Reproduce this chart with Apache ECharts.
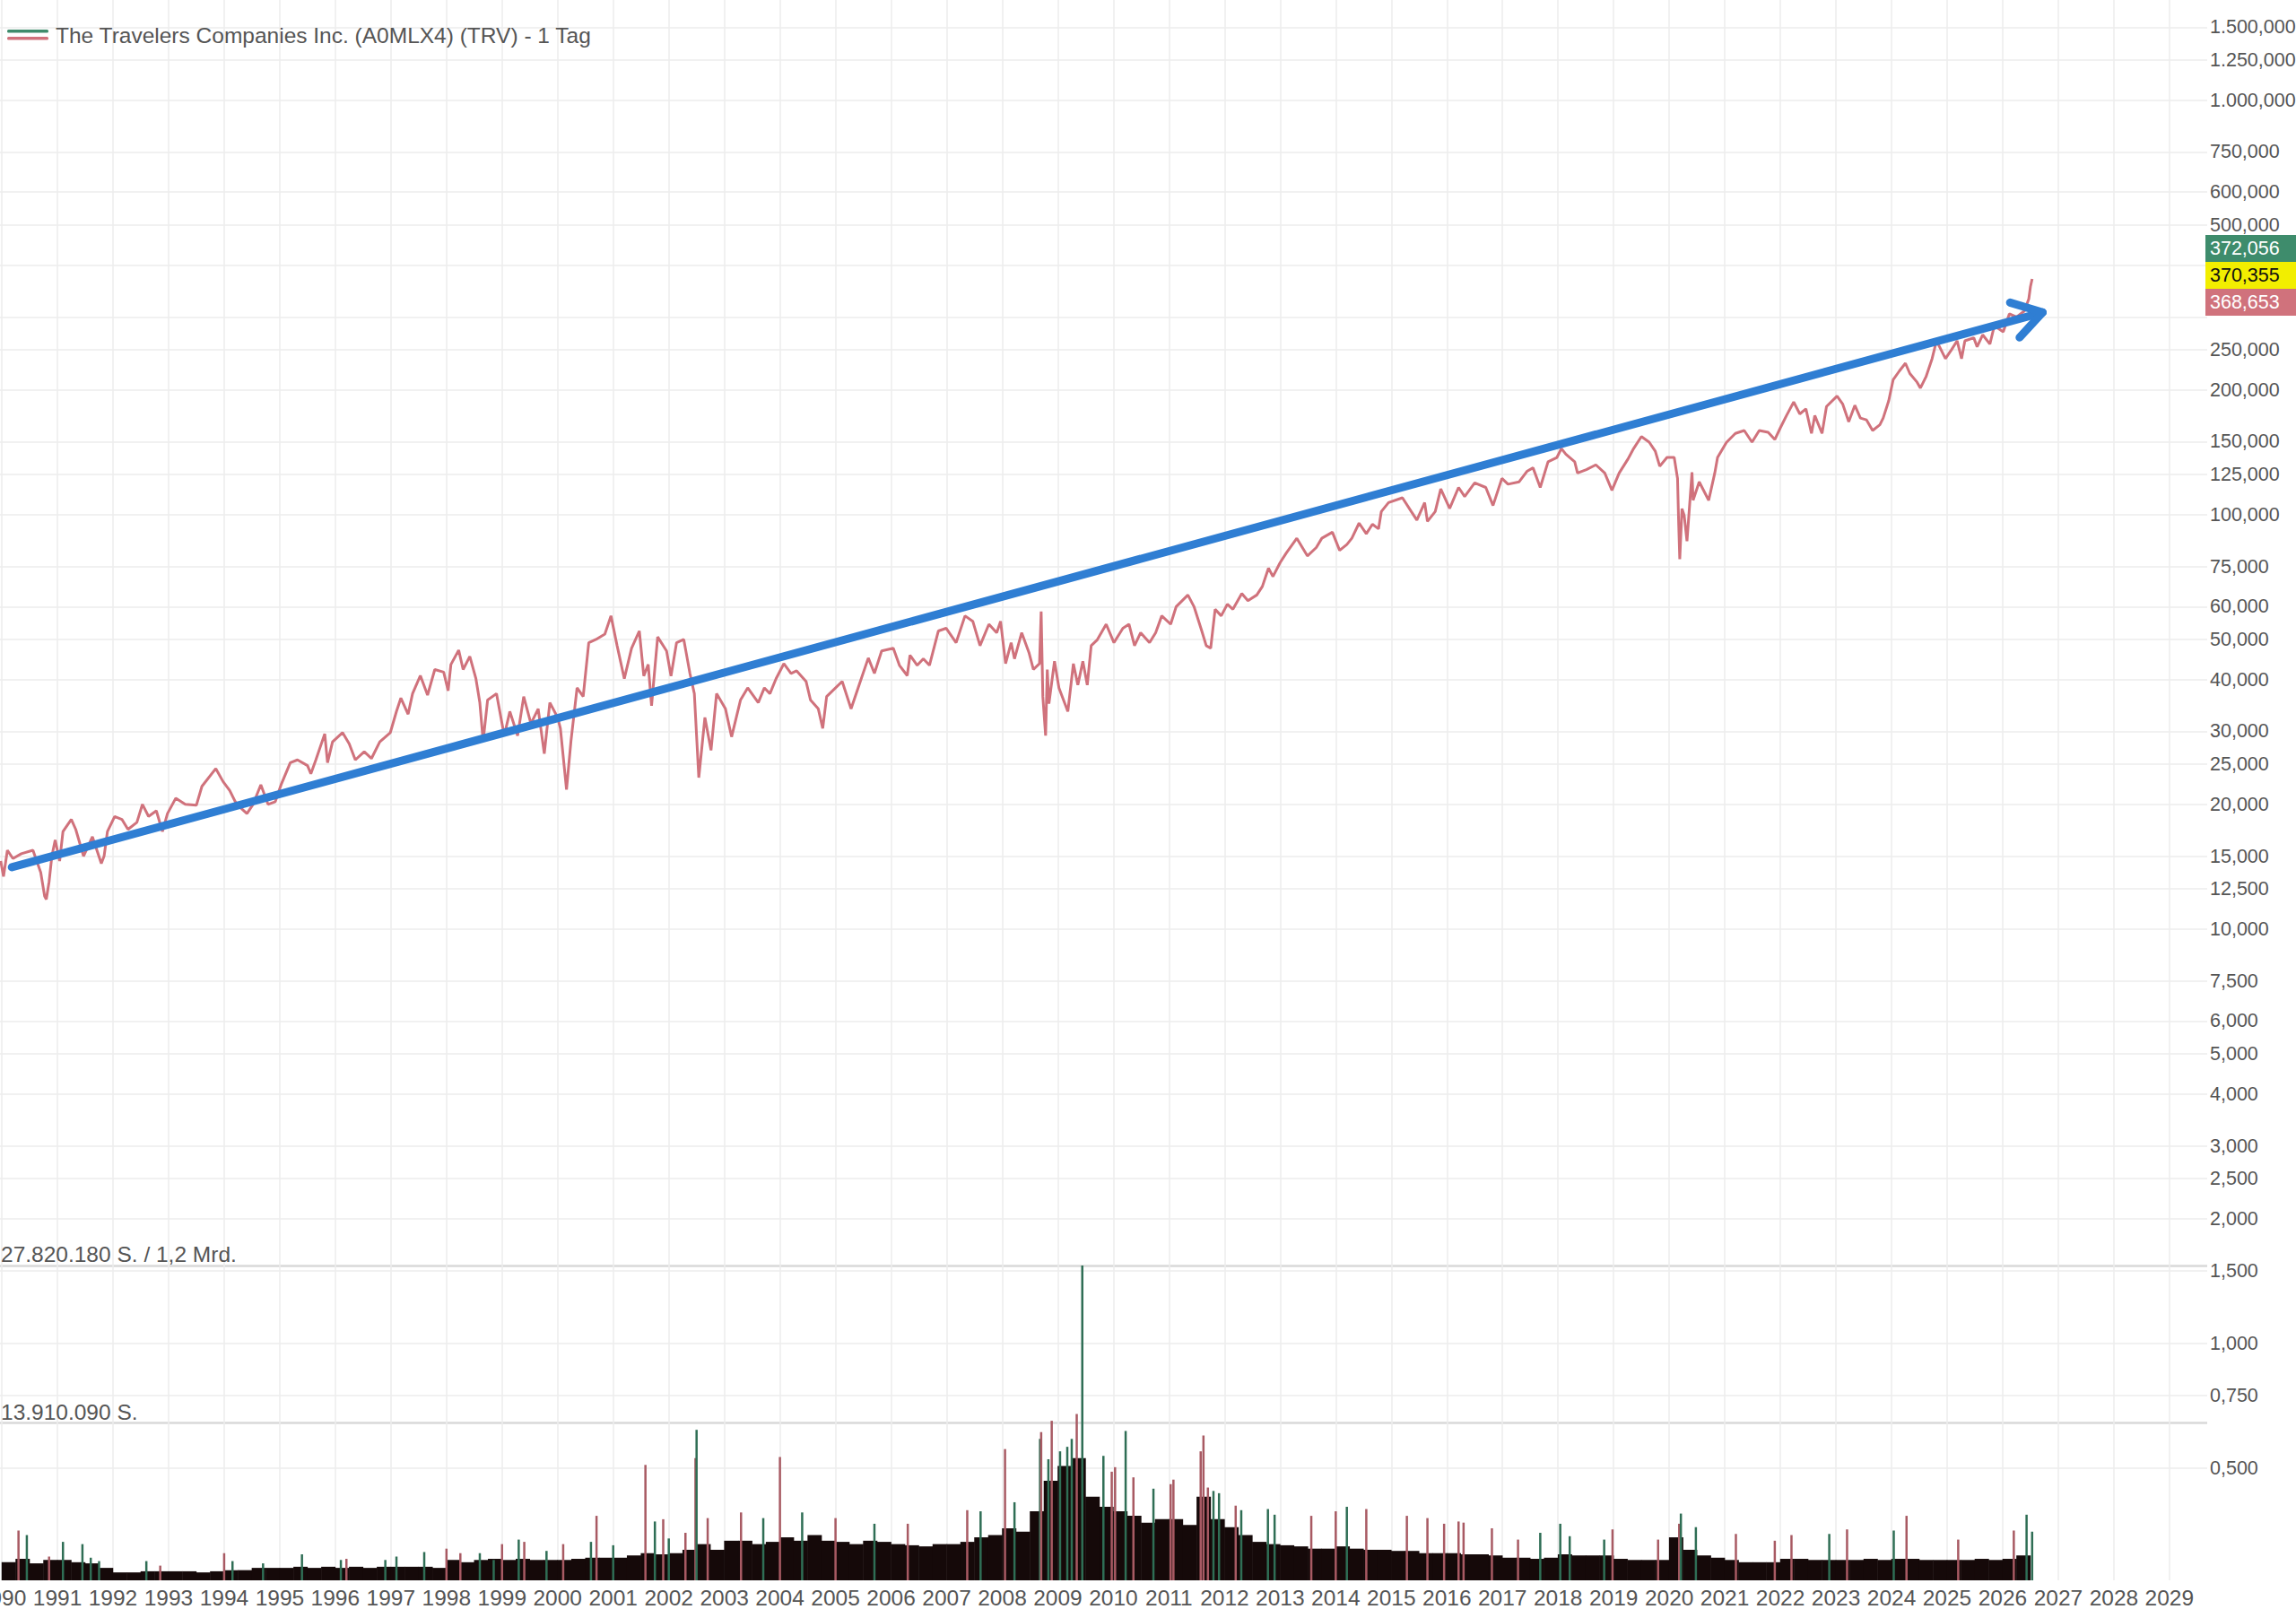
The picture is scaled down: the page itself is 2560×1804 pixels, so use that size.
<!DOCTYPE html>
<html><head><meta charset="utf-8">
<script src="https://cdn.jsdelivr.net/npm/echarts@6/dist/echarts.min.js"></script>
<style>html,body{margin:0;padding:0;background:#fff}#c{width:2560px;height:1804px}</style>
</head><body><div id="c"></div>
<script>
const FONT = '"Liberation Sans", Arial, sans-serif';
const FS = 24.5;      // general text size
const FSY = 21.5;     // right price axis text size (fits the canvas edge)
const title = 'The Travelers Companies Inc. (A0MLX4) (TRV) - 1 Tag';

// price trace (decimal years) and close values (USD)
const priceYears = [].concat(
 [1989.98,1990.03,1990.10,1990.20,1990.35,1990.56,1990.70,1990.77,1990.80,1990.85,1990.90,1990.96],
 [1991.04,1991.10,1991.25,1991.33,1991.47,1991.63,1991.79,1991.84,1991.90],
 [1992.03,1992.16,1992.27,1992.43,1992.53,1992.64,1992.78,1992.89,1992.98],
 [1993.13,1993.30,1993.50,1993.60,1993.85,1993.98],
 [1994.10,1994.20,1994.30,1994.41,1994.52,1994.66,1994.79,1994.92],
 [1995.03,1995.19,1995.32,1995.50,1995.56,1995.65,1995.81,1995.86,1995.95],
 [1996.13,1996.25,1996.36,1996.52,1996.65,1996.80,1996.99],
 [1997.10,1997.18,1997.31,1997.39,1997.53,1997.66,1997.79,1997.95],
 [1998.03,1998.08,1998.22,1998.30,1998.42,1998.53,1998.60,1998.66,1998.74,1998.90],
 [1999.04,1999.14,1999.28,1999.39,1999.52,1999.65,1999.76,1999.86],
 [2000.00,2000.05,2000.16,2000.24,2000.35,2000.46,2000.56,2000.69,2000.85,2000.96],
 [2001.07,2001.20,2001.33,2001.47,2001.55,2001.63,2001.69,2001.80,2001.96],
 [2002.04,2002.14,2002.27,2002.38,2002.46,2002.54,2002.65,2002.76,2002.86],
 [2003.02,2003.13,2003.29,2003.42,2003.61,2003.72,2003.82,2003.93],
 [2004.07,2004.20,2004.30,2004.47,2004.55,2004.69,2004.77,2004.84],
 [2005.12,2005.28,2005.43,2005.59,2005.70,2005.83],
 [2006.04,2006.15,2006.29,2006.34,2006.47,2006.58,2006.69,2006.85,2006.99],
 [2007.17,2007.33,2007.47,2007.60,2007.76,2007.90,2007.97],
 [2008.06,2008.16,2008.22,2008.35,2008.48,2008.56,2008.67,2008.70,2008.73,2008.78,2008.81,2008.84,2008.94],
 [2009.02,2009.18,2009.28,2009.36,2009.45,2009.53,2009.60,2009.71,2009.87],
 [2010.01,2010.17,2010.28,2010.38,2010.49,2010.65,2010.76,2010.87],
 [2011.03,2011.13,2011.34,2011.45,2011.59,2011.67,2011.75,2011.83,2011.94],
 [2012.05,2012.15,2012.31,2012.42,2012.58,2012.68,2012.79,2012.87],
 [2013.00,2013.11,2013.30,2013.49,2013.65,2013.75,2013.94],
 [2014.07,2014.20,2014.29,2014.42,2014.55,2014.66,2014.77,2014.82,2014.95],
 [2015.20,2015.36,2015.46,2015.60,2015.65,2015.79,2015.89],
 [2016.05,2016.21,2016.32,2016.50,2016.70,2016.83,2016.99],
 [2017.10,2017.30,2017.44,2017.55,2017.68,2017.82,2017.98],
 [2018.06,2018.14,2018.30,2018.35,2018.51,2018.68,2018.84,2018.97],
 [2019.10,2019.26,2019.36,2019.50,2019.64,2019.75,2019.83,2019.96],
 [2020.09,2020.15,2020.17,2020.19,2020.23,2020.27,2020.32,2020.41,2020.43,2020.54,2020.71,2020.82,2020.87],
 [2021.03,2021.19,2021.35,2021.49,2021.62,2021.78,2021.90],
 [2022.00,2022.11,2022.24,2022.35,2022.46,2022.56,2022.62,2022.75,2022.83],
 [2023.02,2023.12,2023.23,2023.34,2023.44,2023.55,2023.66,2023.79,2023.85,2023.95],
 [2024.03,2024.14,2024.25,2024.33,2024.46,2024.52,2024.62,2024.73,2024.81,2024.89,2024.97],
 [2025.08,2025.18,2025.26,2025.32,2025.48,2025.54,2025.64,2025.77,2025.85],
 [2026.01,2026.12,2026.25,2026.39,2026.47,2026.50,2026.53]
);
const priceValues = [].concat(
 [14.6,13.4,15.5,14.8,15.2,15.5,13.7,12.0,11.8,13.0,15.0,16.4],
 [14.6,17.2,18.4,17.4,15.0,16.7,14.4,15.0,17.2],
 [18.7,18.4,17.4,18.1,20.0,18.7,19.3,17.2,19.0],
 [20.7,20.0,19.9,22.1,24.4,22.7],
 [21.6,20.3,19.6,19.0,20.0,22.3,20.0,20.3],
 [22.4,25.2,25.6,24.8,23.7,25.6,29.6,25.2,28.3],
 [29.8,28.0,25.6,26.8,25.8,28.3,29.8],
 [33.5,36.1,33.0,37.0,40.9,36.7,42.3,41.7],
 [37.6,43.5,47.1,42.3,45.5,40.2,35.2,28.4,35.7,37.0],
 [29.3,33.5,29.3,36.4,31.3,34.0,26.5,35.2],
 [32.4,30.5,21.7,28.4,38.2,36.4,49.1,50.0,51.5,57.0],
 [48.3,40.2,47.6,52.4,40.8,43.5,34.6,50.7,46.9],
 [40.8,49.1,50.0,41.4,37.0,23.2,32.4,27.0,37.0],
 [34.0,29.1,35.7,38.2,35.2,38.2,37.0,40.2],
 [43.7,41.4,42.0,39.6,35.7,34.0,30.5,36.4],
 [39.6,34.0,39.0,45.1,41.4,46.9],
 [47.6,43.3,40.9,45.8,43.3,44.9,43.3,52.4,53.2],
 [49.1,57.0,55.3,48.3,54.4,51.9,55.3],
 [43.7,49.1,44.9,51.9,46.5,42.3,43.7,58.4,36.4,29.3,42.3,35.0,44.3],
 [38.2,33.5,43.7,38.8,44.3,38.8,48.3,49.9,54.4],
 [49.1,53.2,54.4,48.3,51.9,49.1,51.9,57.0],
 [54.4,60.0,64.0,60.0,52.4,48.3,47.6,59.1,57.0],
 [60.8,59.1,64.5,62.0,64.0,67.1,74.3,70.9],
 [76.6,80.8,87.7,79.5,83.3,87.7,90.7],
 [82.0,84.7,87.7,95.4,89.9,94.8,92.4,101.7,106.9],
 [109.8,101.7,97.0,106.9,96.3,101.7,115.4],
 [103.5,116.3,110.6,119.3,116.3,105.2,122.3],
 [118.4,120.0,127.2,129.7,116.3,134.1,137.4],
 [144.4,139.9,134.1,126.0,128.4,131.9,126.0,114.5],
 [126.0,136.3,144.4,154.3,149.6,142.2,130.8,137.4],
 [137.4,122.3,95.4,78.1,103.4,99.5,86.3,126.5,108.3,120.0,108.3,126.0,137.4],
 [149.4,157.0,159.6,149.6,159.6,158.0,151.8],
 [162.0,173.4,186.9,175.0,180.0,157.0,173.4,157.0,182.3],
 [193.2,185.0,167.5,183.5,171.0,169.3,159.6,164.7,171.0,188.4],
 [211.7,222.0,231.9,219.0,208.7,202.0,215.0,237.8,262.7,250.0,237.8],
 [250.0,262.7,237.8,262.7,267.1,254.0,271.6,258.0,285.5],
 [276.0,305.0,300.0,310.0,331.5,355.0,370.4]
);

// quarterly volume envelope (million shares), from 1990 Q1
const volStartYear = 1990;
const volumeQuarterly = [
 1.6,1.9,1.5,1.8, 1.8,1.6,1.5,1.1, 0.7,0.7,0.8,0.8, 0.8,0.8,0.7,0.8, 0.9,0.9,1.1,1.1,
 1.1,1.2,1.1,1.2, 1.1,1.2,1.1,1.2, 1.2,1.2,1.2,1.1, 1.8,1.6,1.8,1.9, 1.8,1.9,1.8,1.8,
 1.8,1.9,2.0,2.0, 2.0,2.2,2.4,2.3, 2.4,2.7,3.2,2.7, 3.5,3.5,3.2,3.4, 3.8,3.5,4.0,3.5,
 3.4,3.2,3.5,3.4, 3.2,3.1,3.0,3.2, 3.2,3.4,3.8,4.0, 4.6,4.3,6.1,8.8, 10.1,10.8,7.4,6.5,
 6.1,5.7,5.1,5.4, 5.4,4.9,7.4,5.4, 4.7,4.0,3.4,3.2, 3.1,3.0,2.8,2.8, 3.0,2.8,2.7,2.7,
 2.6,2.6,2.4,2.4, 2.4,2.3,2.3,2.2, 2.0,2.0,1.9,2.0, 2.3,2.2,2.2,2.2, 1.9,1.8,1.8,1.8,
 3.8,2.7,2.2,2.0, 1.8,1.6,1.6,1.6, 1.9,1.9,1.8,1.8, 1.8,1.8,1.9,1.8, 1.9,1.9,1.8,1.8,
 1.8,1.8,1.9,1.8, 1.9,2.2
];
// individual volume spikes (million shares)
const spikeYears = [
 1990.30,1990.45,1990.85,1991.10,1991.45,1991.60,1991.75,1992.60,1992.85,1994.00,
 1994.15,1994.70,1995.40,1996.10,1996.20,1996.90,1997.10,1997.60,1998.00,1998.25,
 1998.60,1998.85,1999.00,1999.30,1999.40,1999.80,2000.10,2000.60,2000.70,2001.00,
 2001.58,2001.75,2001.90,2002.00,2002.30,2002.48,2002.50,2002.70,2003.30,2003.70,
 2004.00,2004.40,2005.00,2005.70,2006.30,2007.37,2007.61,2008.05,2008.22,2008.68,
 2008.70,2008.83,2008.89,2009.04,2009.17,2009.25,2009.34,2009.44,2009.82,2009.97,
 2010.03,2010.22,2010.36,2010.72,2011.03,2011.08,2011.57,2011.62,2011.70,2011.80,
 2011.90,2012.20,2012.30,2012.78,2012.90,2013.56,2014.00,2014.20,2014.55,2015.28,
 2015.65,2015.95,2016.21,2016.30,2016.81,2017.28,2017.68,2018.04,2018.21,2018.83,
 2018.98,2019.80,2020.18,2020.21,2020.48,2021.20,2021.90,2022.20,2022.88,2023.20,
 2024.04,2024.27,2025.20,2026.20,2026.43,2026.53];
const spikeValues = [
 4.4,4.0,2.1,3.4,3.2,2.0,1.7,1.7,1.3,2.4,
 1.7,1.5,2.3,1.8,1.9,1.8,2.1,2.5,2.8,2.4,
 2.4,1.8,3.2,3.6,3.4,2.6,3.2,3.4,5.7,3.1,
 10.2,5.2,5.4,3.7,4.2,10.8,13.3,5.5,6.0,5.5,
 10.9,6.0,5.5,5.0,5.0,6.2,6.1,11.6,6.9,12.5,
 13.1,10.7,14.1,11.4,11.8,12.5,14.7,27.82,11.0,9.6,
 10.0,13.2,9.1,8.1,8.5,8.9,11.4,12.8,8.2,7.9,
 7.7,6.6,6.2,6.3,5.8,5.7,6.1,6.5,6.3,5.7,
 5.5,5.0,5.2,5.1,4.6,3.6,4.2,5.0,3.9,3.6,
 4.5,3.6,5.0,5.9,4.7,4.1,3.5,4.0,4.1,4.5,
 4.4,5.7,3.6,4.4,5.8,4.3];
const spikeDir = ('rgrgggggrr'+'ggggrgggrr'+'ggrgrgrgrg'+'rgrgrrgrrg'+'rgrgrrgrgg'+
 'rgrgggrggr'+'rgrgrrrrrg'+'grgggrrgrr'+'rrrrrrgggg'+'rrrggrrrgr'+'grrrgg').split('');

const volMax = 27.82018;                 // million shares
const volTicks = [13.91009, 27.82018];
const volTickLabels = ['13.910.090 S.', '27.820.180 S. / 1,2 Mrd.'];
const priceGridTicks = [0.5,0.75,1,1.5,2,2.5,3,4,5,6,7.5,10,12.5,15,20,25,30,40,50,60,75,100,125,150,200,250,300,400,500,600,750,1000,1250,1500];
const priceLabelTicks = [0.5,0.75,1,1.5,2,2.5,3,4,5,6,7.5,10,12.5,15,20,25,30,40,50,60,75,100,125,150,200,250,500,600,750,1000,1250,1500];
const yearTicks = []; for (let y = 1990; y <= 2029; y++) yearTicks.push(y);
const tagValues = [372.056, 370.355, 368.653];
const arrowFrom = [1990.18, 14.1];
const arrowTo = [2026.72, 307.6];

const RED = '#d0727c', GREEN = '#3e8c6c';
function fmtDE(v){ const s = Number(v).toFixed(3); let [i,d] = s.split('.'); i = i.replace(/\B(?=(\d{3})+(?!\d))/g,'.'); return i + ',' + d; }

const xMin = 1989.967, xMax = 2029.68;
const yMin = 0.2684, yMax = 1744.6;

const chart = echarts.init(document.getElementById('c'), null, {renderer:'svg', width:2560, height:1804});
const option = {
  animation: false,
  backgroundColor: '#ffffff',
  textStyle: {fontFamily: FONT, fontSize: FS, color: '#555'},
  graphic: [
    {type:'rect', x:8, y:33, shape:{width:46, height:3.5, r:1.5}, style:{fill:GREEN}, z:50},
    {type:'rect', x:8, y:41, shape:{width:46, height:3.5, r:1.5}, style:{fill:RED}, z:50},
    {type:'text', x:62, y:39, z:50, style:{text:title, fontFamily:FONT, fontSize:FS, fill:'#555', verticalAlign:'middle', align:'left'}}
  ],
  grid: [
    {left:0, right:99, top:0, bottom:42, outerBoundsMode:'none', containLabel:false},
    {left:0, right:99, top:1411, bottom:42, outerBoundsMode:'none', containLabel:false}
  ],
  xAxis: [
    {type:'value', gridIndex:0, min:xMin, max:xMax,
     axisLine:{show:false}, axisTick:{show:false, customValues:yearTicks},
     axisLabel:{show:false, customValues:yearTicks},
     splitLine:{show:true, lineStyle:{color:'#ececec', width:1.5}}},
    {type:'value', gridIndex:1, min:xMin, max:xMax,
     axisLine:{show:false}, axisTick:{show:false, customValues:yearTicks},
     axisLabel:{show:true, customValues:yearTicks, margin:7, fontSize:FS, color:'#555', fontFamily:FONT, hideOverlap:false,
       formatter: v => String(Math.round(v))},
     splitLine:{show:false}},
    {type:'value', gridIndex:1, min:xMin, max:xMax, show:false, splitLine:{show:false}}
  ],
  yAxis: [
    {type:'log', gridIndex:0, position:'right', min:yMin, max:yMax,
     axisLine:{show:false}, axisTick:{show:false, customValues:priceGridTicks},
     axisLabel:{customValues:priceLabelTicks, formatter: v => fmtDE(v), margin:3, fontSize:FSY, color:'#555', fontFamily:FONT},
     splitLine:{show:true, lineStyle:{color:'#ececec', width:1.5}}},
    {type:'value', gridIndex:1, position:'left', min:0, max:volMax,
     axisLine:{show:false}, axisTick:{show:false, customValues:volTicks},
     axisLabel:{inside:true, customValues:volTicks, margin:1, verticalAlign:'bottom', fontSize:FS, color:'#555', fontFamily:FONT,
       formatter: v => { const i = volTicks.findIndex(t => Math.abs(t - v) < 1e-6); return i >= 0 ? volTickLabels[i] : ''; }},
     splitLine:{show:true, lineStyle:{color:'#d9d9d9', width:2.5}}}
  ],
  series: [
    {type:'bar', name:'Volumen', xAxisIndex:1, yAxisIndex:1, barWidth:16, z:2,
     itemStyle:{color:'#150909'},
     data: volumeQuarterly.map((v,i) => [volStartYear + i*0.25 + 0.125, v])},
    {type:'bar', name:'Volumen Spitzen', xAxisIndex:2, yAxisIndex:1, barWidth:2.5, z:3,
     data: spikeYears.map((y,i) => ({value:[y, spikeValues[i]], itemStyle:{color: spikeDir[i]==='g' ? '#2f6e55' : '#a85a63'}}))},
    {type:'line', name:title, xAxisIndex:0, yAxisIndex:0, showSymbol:false, symbol:'none', z:4,
     lineStyle:{color:RED, width:3}, itemStyle:{color:RED},
     data: priceYears.map((y,i) => [y, priceValues[i]])},
    {type:'custom', name:'Trend', xAxisIndex:0, yAxisIndex:0, z:6,
     dimensions:['x0','y0','x1','y1'], encode:{x:[0,2], y:[1,3]},
     data:[[arrowFrom[0], arrowFrom[1], arrowTo[0], arrowTo[1]]],
     renderItem: (params, api) => {
       const p0 = api.coord([api.value(0), api.value(1)]);
       const p1 = api.coord([api.value(2), api.value(3)]);
       const dx = p1[0]-p0[0], dy = p1[1]-p0[1], L = Math.hypot(dx,dy);
       const bx = -dx/L, by = -dy/L, len = 38, ang = 32*Math.PI/180;
       const rot = a => [p1[0] + len*(bx*Math.cos(a) - by*Math.sin(a)), p1[1] + len*(bx*Math.sin(a) + by*Math.cos(a))];
       const st = {stroke:'#2f7ed3', lineWidth:9, lineCap:'round', lineJoin:'round', fill:null};
       return {type:'group', children:[
         {type:'line', shape:{x1:p0[0], y1:p0[1], x2:p1[0], y2:p1[1]}, style:st},
         {type:'polyline', shape:{points:[rot(ang), p1, rot(-ang)]}, style:st}
       ]};
     }},
    {type:'custom', name:'Kurs', xAxisIndex:0, yAxisIndex:0, z:8,
     encode:{x:0, y:1},
     data: tagValues.map((v,i) => [xMax, v, i-1]),
     renderItem: (params, api) => {
       const k = api.value(2);
       const base = api.coord([api.value(0), tagValues[1]]);
       const x = base[0] - 2, y = base[1] - 4 + k*30;
       const fills = [GREEN, '#f2ee00', RED], texts = ['#ffffff', '#111111', '#ffffff'];
       return {type:'group', children:[
         {type:'rect', shape:{x:x, y:y-15, width:110, height:30}, style:{fill:fills[k+1]}},
         {type:'text', x:x+5, y:y, style:{text:fmtDE(api.value(1)), fill:texts[k+1], fontFamily:FONT, fontSize:FSY, verticalAlign:'middle', align:'left'}}
       ]};
     }}
  ]
};
chart.setOption(option);
</script></body></html>
